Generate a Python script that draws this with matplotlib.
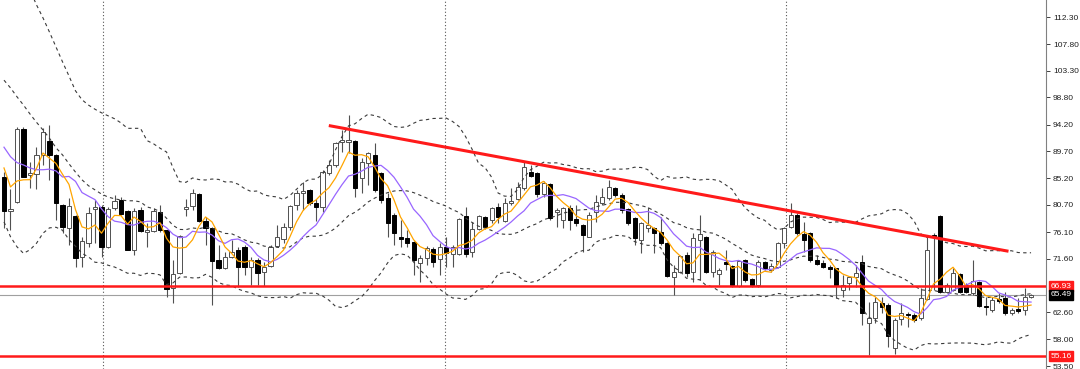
import numpy as np
import pandas as pd
import matplotlib
matplotlib.use("Agg")
import matplotlib.pyplot as plt

# OHLC bars (left to right)
opens = [85.4, 79.6, 81.2, 93.5, 85.7, 85.9, 89.1, 91.5, 89.1, 80.7,
         76.8, 78.8, 71.9, 74.3, 80.0, 80.3, 73.6, 80.2, 81.5, 79.6,
         73.1, 79.8, 76.1, 76.3, 79.5, 76.4, 66.7, 69.2, 80.0, 80.5,
         82.5, 78.0, 76.8, 71.4, 70.0, 71.9, 73.1, 73.6, 70.2, 71.4,
         69.4, 70.4, 73.7, 74.9, 77.0, 80.7, 82.7, 83.2, 81.0, 80.3,
         86.1, 87.4, 91.3, 91.3, 91.5, 85.2, 87.7, 89.1, 86.1, 81.8,
         79.0, 75.3, 75.1, 74.4, 70.9, 71.7, 73.2, 71.5, 73.6, 72.4,
         72.4, 78.8, 72.7, 76.6, 78.6, 78.1, 80.3, 78.0, 81.0, 81.7,
         83.5, 86.2, 86.1, 82.5, 84.2, 79.5, 78.1, 80.2, 78.3, 77.3,
         75.3, 79.5, 81.0, 81.8, 83.5, 82.3, 80.0, 78.5, 74.8, 76.8,
         76.8, 76.1, 74.3, 68.5, 69.4, 72.2, 69.4, 74.8, 75.3, 69.4,
         69.0, 71.0, 70.4, 67.0, 71.4, 68.2, 67.2, 71.0, 69.7, 70.2,
         74.3, 77.0, 79.0, 75.8, 75.9, 71.4, 70.9, 70.2, 70.0, 66.3,
         67.5, 68.5, 71.0, 60.8, 61.6, 64.1, 63.8, 56.5, 61.4, 62.3,
         62.1, 61.6, 64.8, 75.6, 78.8, 66.0, 66.3, 69.0, 67.2, 65.8,
         67.7, 63.6, 63.0, 64.8, 65.0, 62.4, 63.1, 63.0, 65.2]
highs = [86.2, 83.4, 93.8, 93.8, 87.9, 90.4, 93.6, 94.1, 89.2, 80.8,
         81.8, 78.9, 75.3, 80.3, 81.5, 80.7, 80.3, 82.3, 82.0, 79.8,
         80.2, 80.3, 77.6, 80.2, 80.7, 76.5, 71.4, 75.6, 81.7, 83.4,
         82.7, 78.6, 76.9, 73.9, 72.7, 74.8, 73.6, 73.9, 71.9, 71.7,
         71.0, 73.9, 77.3, 77.6, 80.7, 83.2, 84.5, 83.4, 81.7, 86.6,
         88.2, 91.3, 93.3, 95.8, 91.6, 88.6, 89.6, 91.1, 86.2, 82.7,
         79.3, 78.1, 76.4, 74.5, 72.2, 73.7, 73.6, 74.3, 75.3, 73.9,
         78.5, 80.3, 77.8, 79.0, 78.8, 80.3, 81.0, 81.8, 83.5, 84.5,
         87.9, 87.4, 86.2, 84.7, 84.4, 80.2, 80.3, 80.7, 80.7, 77.5,
         79.5, 82.3, 83.5, 84.9, 83.7, 82.7, 80.2, 78.6, 77.8, 80.3,
         77.0, 78.6, 74.4, 70.5, 72.2, 72.7, 75.9, 79.0, 75.4, 73.1,
         70.0, 73.1, 70.5, 71.4, 71.5, 68.4, 71.4, 71.2, 70.9, 74.4,
         77.0, 81.0, 79.3, 77.8, 76.1, 72.2, 71.4, 70.5, 70.0, 68.9,
         68.7, 70.5, 72.2, 64.3, 65.1, 65.1, 64.1, 61.6, 64.1, 62.6,
         62.4, 66.7, 75.3, 75.9, 79.0, 67.5, 70.0, 69.2, 67.5, 71.4,
         67.8, 65.1, 65.1, 65.8, 66.0, 63.3, 65.0, 66.7, 65.6]
lows = [76.8, 76.4, 81.0, 85.3, 83.5, 83.4, 87.4, 84.9, 78.1, 75.9,
        73.9, 70.2, 70.2, 73.6, 74.3, 71.9, 73.4, 79.8, 79.0, 73.0,
        72.2, 76.1, 73.6, 76.1, 76.1, 65.1, 64.1, 69.1, 78.8, 79.8,
        77.8, 73.9, 63.8, 69.9, 69.9, 71.7, 66.8, 68.9, 67.2, 67.2,
        67.0, 70.2, 73.6, 74.3, 76.4, 79.8, 79.8, 80.7, 78.0, 79.5,
        85.7, 87.1, 89.6, 89.4, 82.0, 82.7, 84.0, 82.9, 81.0, 75.3,
        73.9, 73.6, 73.6, 68.9, 67.7, 70.5, 70.2, 68.9, 70.2, 70.2,
        72.2, 71.9, 71.9, 76.4, 76.6, 77.6, 77.6, 77.8, 80.7, 81.5,
        83.2, 85.4, 82.0, 82.0, 78.1, 77.0, 76.8, 76.4, 77.1, 72.7,
        75.2, 77.8, 80.7, 81.5, 82.0, 79.3, 77.3, 73.9, 72.6, 76.1,
        72.6, 73.9, 68.5, 65.5, 69.2, 68.5, 67.7, 68.0, 69.2, 68.5,
        67.2, 69.7, 66.8, 66.8, 67.7, 66.8, 66.8, 69.7, 69.4, 70.0,
        73.4, 76.8, 75.6, 72.7, 71.0, 70.5, 70.0, 68.4, 65.0, 65.1,
        66.3, 66.8, 60.4, 55.4, 60.8, 62.4, 56.7, 55.5, 60.4, 60.1,
        60.9, 61.3, 64.6, 66.3, 65.8, 65.8, 66.2, 65.8, 65.8, 65.5,
        63.5, 62.1, 62.6, 64.1, 62.1, 62.1, 62.4, 62.1, 65.0]
closes = [79.6, 80.0, 93.5, 85.4, 86.1, 89.1, 93.0, 89.1, 81.0, 77.0,
          80.5, 71.7, 74.6, 79.3, 80.3, 73.6, 80.0, 81.3, 79.1, 73.1,
          79.6, 76.3, 76.4, 79.6, 76.4, 66.5, 69.0, 75.4, 80.3, 82.7,
          78.0, 76.8, 71.2, 70.0, 71.9, 72.7, 70.2, 70.2, 71.4, 69.2,
          70.2, 73.6, 75.3, 77.0, 80.5, 82.7, 83.0, 81.0, 80.3, 86.2,
          87.4, 91.1, 91.6, 91.6, 83.5, 87.9, 89.4, 83.2, 81.5, 77.6,
          75.9, 74.9, 74.3, 71.4, 71.7, 73.4, 71.0, 73.6, 72.6, 73.6,
          78.3, 72.4, 76.6, 78.8, 77.0, 80.2, 78.6, 81.0, 81.3, 83.7,
          87.1, 85.5, 82.5, 84.4, 78.5, 79.8, 80.2, 78.1, 77.6, 75.6,
          79.0, 81.2, 82.0, 83.7, 82.3, 79.8, 77.6, 75.1, 77.6, 77.3,
          75.9, 74.3, 68.7, 69.4, 72.1, 69.2, 75.1, 75.8, 69.4, 72.7,
          69.7, 70.7, 67.2, 71.2, 68.0, 67.2, 71.0, 70.0, 70.4, 74.3,
          76.8, 79.0, 75.9, 74.8, 71.4, 70.7, 70.2, 69.9, 67.2, 67.2,
          68.5, 69.2, 62.4, 61.6, 64.3, 63.5, 58.6, 61.3, 62.4, 62.1,
          61.3, 65.0, 73.1, 75.3, 66.0, 67.2, 69.2, 66.0, 66.0, 67.8,
          63.6, 63.5, 64.6, 64.5, 62.4, 63.0, 62.8, 65.2, 65.49]

# indicator values on the first bars (their history is off-chart)
ma5_head = [86.9, 83.7, 84.7, 84.9]
ma10_head = [90.4, 88.8, 87.8, 87.4, 86.9, 86.6, 86.6, 86.7, 86.4]
bb_up_head = [127.0, 124.5, 122.0, 119.4, 116.9, 114.4, 112.2, 109.8, 107.3, 104.8,
              102.4, 99.9, 98.4, 97.5, 96.8, 96.2, 95.7, 95.2, 94.5]
bb_mid_head = [101.7, 100.4, 98.9, 97.5, 96.0, 94.6, 93.3, 91.9, 90.3, 89.1,
               87.6, 86.2, 84.9, 83.9, 83.2, 82.5, 82.0, 81.7, 81.5]
bb_low_head = [77.8, 75.3, 73.6, 72.5, 73.1, 74.2, 75.9, 76.8, 76.9, 76.4,
               74.8, 73.7, 72.5, 71.9, 71.0, 70.9, 70.5, 70.2, 69.7]

levels = [66.93, 55.16]
last_price = 65.49
trend_x = [50.2, 154.3]
trend_y = [94.0, 72.9]
separators = [15.2, 67.8, 120.3]
yticks = [112.30, 107.80, 103.30, 98.80, 94.20, 89.70, 85.20, 80.70,
          76.10, 71.60, 62.60, 58.00, 53.50]

o = np.array(opens)
h = np.array(highs)
l = np.array(lows)
c = np.array(closes)
x = np.arange(len(c))

cs = pd.Series(c)
ma5 = cs.rolling(5).mean().values
ma5[:len(ma5_head)] = ma5_head
ma10 = cs.rolling(10).mean().values
ma10[:len(ma10_head)] = ma10_head
mid = cs.rolling(20).mean()
sd = cs.rolling(20).std(ddof=0)
bb_up = (mid + 2 * sd).values
bb_low = (mid - 2 * sd).values
bb_mid = mid.values
bb_up[:19] = bb_up_head
bb_mid[:19] = bb_mid_head
bb_low[:19] = bb_low_head

fig = plt.figure(figsize=(10.8, 3.69), dpi=100)
ax = fig.add_axes([0, 0, 1046 / 1080, 1])
ax.set_xlim(-0.615, 160.3)
ax.set_ylim(53.0, 115.22)

for s in separators:
    ax.axvline(s, color='#555555', lw=0.8, ls=(0, (1, 2)), zorder=1)

ax.axhline(last_price, color='#a0a0a0', lw=0.8, zorder=1)

# candles
up = c >= o
ax.vlines(x, l, h, color='#505050', lw=0.8, zorder=2)
body_lo = np.minimum(o, c)
body_h = np.maximum(np.abs(c - o), 0.12)
ax.bar(x[up], body_h[up], bottom=body_lo[up], width=0.62,
       color='white', edgecolor='#505050', linewidth=0.7, zorder=3)
ax.bar(x[~up], body_h[~up], bottom=body_lo[~up], width=0.62,
       color='black', edgecolor='black', linewidth=0.7, zorder=3)

# bollinger bands (dotted) and moving averages
for band in (bb_up, bb_mid, bb_low):
    ax.plot(x, band, color='#3a3a3a', lw=0.8, ls=(0, (3, 3)), zorder=4)
ax.plot(x, ma10, color='#9966ff', lw=0.9, zorder=4)
ax.plot(x, ma5, color='#ffa500', lw=0.9, zorder=4)

# support / resistance
for lv in levels:
    ax.axhline(lv, color='#ff1a1a', lw=1.8, zorder=5)
ax.plot(trend_x, trend_y, color='#ff1a1a', lw=2.2, zorder=5)

# price scale on the right
for sp in ('top', 'left', 'bottom'):
    ax.spines[sp].set_visible(False)
ax.spines['right'].set_color('#808080')
ax.spines['right'].set_linewidth(0.8)
ax.set_xticks([])
ax.yaxis.tick_right()
ax.set_yticks(yticks)
ax.set_yticklabels(['%.2f' % t for t in yticks])
ax.tick_params(axis='y', length=3, width=0.7, color='#404040', pad=2,
               labelsize=6, labelcolor='#202020')
for lab in ax.get_yticklabels():
    lab.set_fontfamily('Liberation Sans')

tr = ax.get_yaxis_transform()
boxes = [(levels[0], '#ff1a1a'), (last_price, 'black'), (levels[1], '#ff1a1a')]
for val, col in boxes:
    ax.text(1.004, val, '%.2f' % val, transform=tr, ha='left', va='center',
            fontsize=6, family='Liberation Sans', color='white', clip_on=False,
            bbox=dict(boxstyle='square,pad=0.18', fc=col, ec=col), zorder=6)

fig.savefig('out.png', dpi=100)
